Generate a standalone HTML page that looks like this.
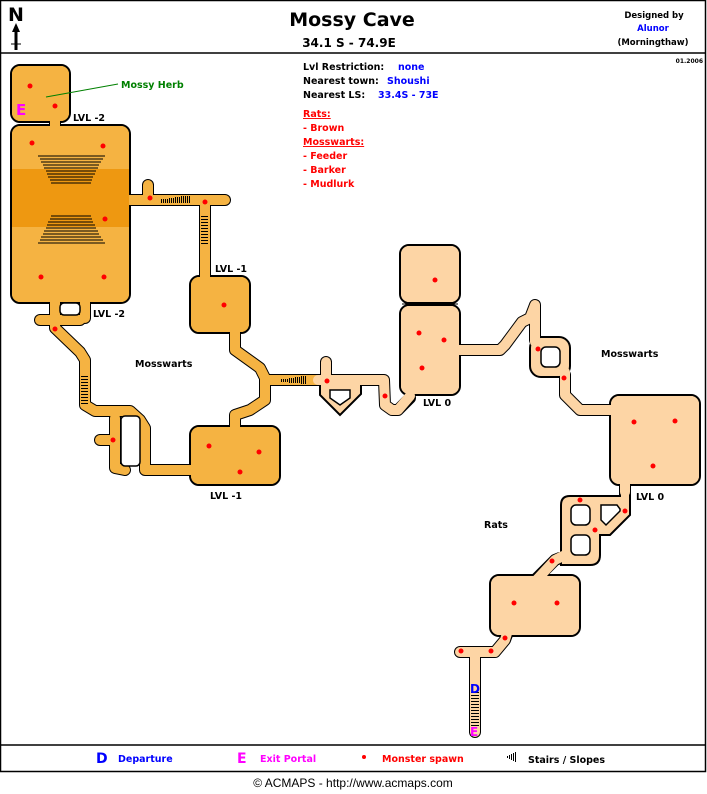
<!DOCTYPE html>
<html><head><meta charset="utf-8"><style>
html,body{margin:0;padding:0;background:#fff;}
svg{display:block;font-family:"DejaVu Sans",Verdana,sans-serif;}
svg text{font-weight:bold;}
svg text.n{font-weight:normal;font-family:"Liberation Sans",Arial,sans-serif;}
</style></head><body>
<svg width="707" height="794" viewBox="0 0 707 794" xmlns="http://www.w3.org/2000/svg">
<rect x="0" y="0" width="707" height="794" fill="#fff"/>
<rect x="0.5" y="0.5" width="705" height="771" fill="none" stroke="#000" stroke-width="1.5"/>
<line x1="0" y1="53" x2="706" y2="53" stroke="#000" stroke-width="1.5"/>
<line x1="0" y1="745" x2="706" y2="745" stroke="#000" stroke-width="1.5"/>

<text x="8" y="21" font-size="19" fill="#000">N</text>
<line x1="16" y1="28" x2="16" y2="50" stroke="#000" stroke-width="3"/>
<polygon points="16,23 12,32 20,32" fill="#000"/>
<line x1="11" y1="44" x2="21" y2="44" stroke="#000" stroke-width="1"/>

<text x="352" y="26" font-size="19" text-anchor="middle">Mossy Cave</text>
<text x="349" y="47" font-size="12" text-anchor="middle">34.1 S - 74.9E</text>
<text x="654" y="18" font-size="8.5" text-anchor="middle">Designed by</text>
<text x="653" y="31" font-size="8.5" text-anchor="middle" fill="#0000ff">Alunor</text>
<text x="653" y="45" font-size="8.5" text-anchor="middle">(Morningthaw)</text>
<text x="703" y="63" font-size="6" text-anchor="end">01.2006</text>

<g font-size="9.5">
<text x="303" y="70">Lvl Restriction:</text><text x="398" y="70" fill="#0000ff">none</text>
<text x="303" y="84">Nearest town:</text><text x="387" y="84" fill="#0000ff">Shoushi</text>
<text x="303" y="98">Nearest LS:</text><text x="378" y="98" fill="#0000ff">33.4S - 73E</text>
<g fill="#ff0000">
<text x="303" y="117" text-decoration="underline">Rats:</text>
<text x="303" y="131">- Brown</text>
<text x="303" y="145" text-decoration="underline">Mosswarts:</text>
<text x="303" y="159">- Feeder</text>
<text x="303" y="173">- Barker</text>
<text x="303" y="187">- Mudlurk</text>
</g>
</g>

<g fill="none" stroke="#000" stroke-width="12" stroke-linejoin="round" stroke-linecap="round">
<polyline points="55,120 55,128"/>
<polyline points="128,200 225,200"/>
<polyline points="148,185 148,195"/>
<polyline points="205,200 205,280"/>
<polyline points="55,303 55,328 80,352 85,360 85,405 95,411 130,411 140,420 145,428 145,470 185,470 192,470"/>
<polyline points="115,418 115,468 125,470"/>
<polyline points="100,440 115,440"/>
<polyline points="40,320 80,320"/>
<polyline points="85,303 85,318"/>
<polyline points="235,330 235,350 260,368 265,378 265,400 250,410 235,415 235,430"/>
<polyline points="265,380 320,380"/>
<polyline points="318,380 384,380 385,405 392,410 398,410 410,398"/>
<polyline points="326,362 326,378"/>
<polyline points="458,350 500,350 505,345 522,322 530,318 535,305 535,340"/>
<polyline points="565,375 565,395 580,410 612,410"/>
<polyline points="560,558 555,560 530,585"/>
<polyline points="508,632 505,640 495,652 460,652"/>
<polyline points="475,652 475,732"/>
</g>
<g stroke="#000" stroke-width="2" fill="#F5B342">
<rect x="11" y="65" width="59" height="57" rx="9"/>
<rect x="11" y="125" width="119" height="178" rx="9"/>
<rect x="190" y="276" width="60" height="57" rx="9"/>
<rect x="190" y="426" width="90" height="59" rx="9"/>
</g>
<g stroke="#000" stroke-width="2" fill="#FDD5A5">
<rect x="400" y="245" width="60" height="58" rx="9"/>
<rect x="400" y="305" width="60" height="90" rx="9"/>
<rect x="610" y="395" width="90" height="90" rx="9"/>
<rect x="490" y="575" width="90" height="61" rx="9"/>
<polygon points="320,383 320,395 340,415 361,394 361,383"/>
<rect x="530" y="337" width="40" height="40" rx="11"/>
<path d="M570,496 L620,496 L620,484 L630,484 L630,515 L610,535 L600,535 L600,555 Q600,565 590,565 L561,565 L561,505 Q561,496 570,496 Z"/>
</g>
<g fill="none" stroke="#F5B342" stroke-width="10" stroke-linejoin="round" stroke-linecap="round">
<polyline points="55,118 55,130"/>
<polyline points="126,200 225,200"/>
<polyline points="148,185 148,198"/>
<polyline points="205,200 205,282"/>
<polyline points="55,300 55,328 80,352 85,360 85,405 95,411 130,411 140,420 145,428 145,470 185,470 194,470"/>
<polyline points="115,418 115,468 125,470"/>
<polyline points="100,440 115,440"/>
<polyline points="40,320 80,320"/>
<polyline points="85,300 85,318"/>
<polyline points="235,328 235,350 260,368 265,378 265,400 250,410 235,415 235,430"/>
<polyline points="265,380 318,380"/>
</g>
<g fill="none" stroke="#FDD5A5" stroke-width="10" stroke-linejoin="round" stroke-linecap="round">
<polyline points="318,380 384,380 385,405 392,410 398,410 410,396"/>
<polyline points="326,362 326,380"/>
<polyline points="456,350 500,350 505,345 522,322 530,318 535,305 535,342"/>
<polyline points="565,372 565,395 580,410 614,410"/>
<polyline points="625,480 625,492"/>
<polyline points="563,556 555,560 530,587"/>
<polyline points="508,630 505,640 495,652 460,652"/>
<polyline points="475,652 475,732"/>
</g>
<rect x="12" y="66" width="57" height="55" rx="8" fill="#F5B342"/>
<rect x="12" y="126" width="117" height="176" rx="8" fill="#F5B342"/>
<rect x="12" y="169" width="117" height="58" fill="#EE9811"/>
<rect x="191" y="277" width="58" height="55" rx="8" fill="#F5B342"/>
<rect x="191" y="427" width="88" height="57" rx="8" fill="#F5B342"/>
<rect x="401" y="246" width="58" height="56" rx="8" fill="#FDD5A5"/>
<rect x="401" y="306" width="58" height="88" rx="8" fill="#FDD5A5"/>
<rect x="611" y="396" width="88" height="88" rx="8" fill="#FDD5A5"/>
<rect x="491" y="576" width="88" height="59" rx="8" fill="#FDD5A5"/>
<g fill="#fff" stroke="#000" stroke-width="1.5">
<rect x="60" y="303" width="20" height="12" rx="4"/>
<rect x="121" y="416" width="19" height="50" rx="4"/>
<polygon points="330,390 350,390 350,398 340,405 330,398"/>
<rect x="541" y="347" width="19" height="20" rx="5"/>
<rect x="571" y="505" width="19" height="20" rx="5"/>
<polygon points="601,505 617,505 620,509 620,511 606,525 601,520"/>
<rect x="571" y="535" width="19" height="20" rx="5"/>
</g>
<line x1="402" y1="304" x2="458" y2="304" stroke="#000" stroke-width="1"/>

<g stroke="#000" stroke-width="1" shape-rendering="crispEdges">
<line x1="38" y1="156" x2="105" y2="156"/><line x1="40" y1="159" x2="103" y2="159"/><line x1="41" y1="162" x2="101" y2="162"/><line x1="43" y1="165" x2="99" y2="165"/><line x1="44" y1="168" x2="98" y2="168"/><line x1="46" y1="171" x2="96" y2="171"/><line x1="47" y1="174" x2="95" y2="174"/><line x1="48" y1="177" x2="93" y2="177"/><line x1="50" y1="180" x2="92" y2="180"/><line x1="51" y1="183" x2="91" y2="183"/>
<line x1="51" y1="216" x2="91" y2="216"/><line x1="50" y1="219" x2="92" y2="219"/><line x1="48" y1="222" x2="93" y2="222"/><line x1="47" y1="225" x2="95" y2="225"/><line x1="46" y1="228" x2="96" y2="228"/><line x1="44" y1="231" x2="98" y2="231"/><line x1="43" y1="234" x2="99" y2="234"/><line x1="41" y1="237" x2="101" y2="237"/><line x1="40" y1="240" x2="103" y2="240"/><line x1="38" y1="243" x2="105" y2="243"/>
<path d="M161.5,199v4M163.5,199v4M165.5,199v4M167.5,199v4M169.5,198v5M171.5,198v5M173.5,198v5M175.5,197v6M177.5,197v6M179.5,197v6M181.5,196v7M183.5,196v7M185.5,196v7M187.5,196v7M189.5,196v7"/>
<path d="M201,216.5h7M201,219.5h7M201,222.5h7M201,225.5h7M201,228.5h7M201,231.5h7M201,234.5h7M201,237.5h7M201,240.5h7M201,243.5h7"/>
<path d="M81,376.5h7M81,379.5h7M81,382.5h7M81,385.5h7M81,388.5h7M81,391.5h7M81,394.5h7M81,397.5h7M81,400.5h7M81,403.5h7"/>
<path d="M281.5,379v3M283.5,379v3M285.5,379v3M287.5,379v3M289.5,378v5M291.5,378v5M293.5,378v5M295.5,377v6M297.5,377v6M299.5,377v6M301.5,376v8M303.5,376v8M305.5,376v8"/>
<path d="M471,692.5h8M471,695.5h8M471,698.5h8M471,701.5h8M471,704.5h8M471,707.5h8M471,710.5h8M471,713.5h8M471,716.5h8M471,719.5h8M471,722.5h8M471,725.5h8"/>
</g>

<g fill="#ff0000">
<circle cx="30" cy="86" r="2.5"/><circle cx="55" cy="106" r="2.5"/>
<circle cx="32" cy="143" r="2.5"/><circle cx="103" cy="146" r="2.5"/>
<circle cx="105" cy="219" r="2.5"/><circle cx="41" cy="277" r="2.5"/><circle cx="104" cy="277" r="2.5"/>
<circle cx="150" cy="198" r="2.5"/><circle cx="205" cy="202" r="2.5"/>
<circle cx="224" cy="305" r="2.5"/><circle cx="55" cy="329" r="2.5"/>
<circle cx="113" cy="440" r="2.5"/>
<circle cx="209" cy="446" r="2.5"/><circle cx="259" cy="452" r="2.5"/><circle cx="240" cy="472" r="2.5"/>
<circle cx="327" cy="381" r="2.5"/><circle cx="385" cy="396" r="2.5"/>
<circle cx="435" cy="280" r="2.5"/><circle cx="419" cy="333" r="2.5"/><circle cx="444" cy="340" r="2.5"/><circle cx="422" cy="368" r="2.5"/>
<circle cx="538" cy="349" r="2.5"/><circle cx="564" cy="378" r="2.5"/>
<circle cx="634" cy="422" r="2.5"/><circle cx="675" cy="421" r="2.5"/><circle cx="653" cy="466" r="2.5"/>
<circle cx="580" cy="500" r="2.5"/><circle cx="625" cy="511" r="2.5"/><circle cx="595" cy="530" r="2.5"/>
<circle cx="552" cy="561" r="2.5"/>
<circle cx="514" cy="603" r="2.5"/><circle cx="557" cy="603" r="2.5"/>
<circle cx="505" cy="638" r="2.5"/><circle cx="461" cy="651" r="2.5"/><circle cx="491" cy="651" r="2.5"/>
</g>

<text x="16" y="115" font-size="15" fill="#ff00ff">E</text>
<text x="470" y="693" font-size="12" fill="#0000ff">D</text>
<text x="470" y="736" font-size="12" fill="#ff00ff">E</text>

<line x1="46" y1="97" x2="118" y2="84" stroke="#008000" stroke-width="1"/>
<text x="121" y="88" font-size="9.5" fill="#008000">Mossy Herb</text>

<g font-size="9.5">
<text x="73" y="121">LVL -2</text>
<text x="93" y="317">LVL -2</text>
<text x="215" y="272">LVL -1</text>
<text x="210" y="499">LVL -1</text>
<text x="423" y="406">LVL 0</text>
<text x="636" y="500">LVL 0</text>
<text x="135" y="367">Mosswarts</text>
<text x="601" y="357">Mosswarts</text>
<text x="484" y="528">Rats</text>
</g>

<text x="96" y="763" font-size="14" fill="#0000ff">D</text>
<text x="118" y="762" font-size="9.5" fill="#0000ff">Departure</text>
<text x="237" y="763" font-size="14" fill="#ff00ff">E</text>
<text x="260" y="762" font-size="9.5" fill="#ff00ff">Exit Portal</text>
<circle cx="364" cy="757" r="2" fill="#ff0000"/>
<text x="382" y="762" font-size="9.5" fill="#ff0000">Monster spawn</text>
<path d="M507.5,756v2M509.5,755v4M511.5,754v6M513.5,753v8M515.5,752v10" stroke="#000" stroke-width="1" shape-rendering="crispEdges"/>
<text x="528" y="763" font-size="9.5">Stairs / Slopes</text>
<text class="n" x="353" y="787" font-size="12" text-anchor="middle">© ACMAPS - http://www.acmaps.com</text>
</svg>
</body></html>
